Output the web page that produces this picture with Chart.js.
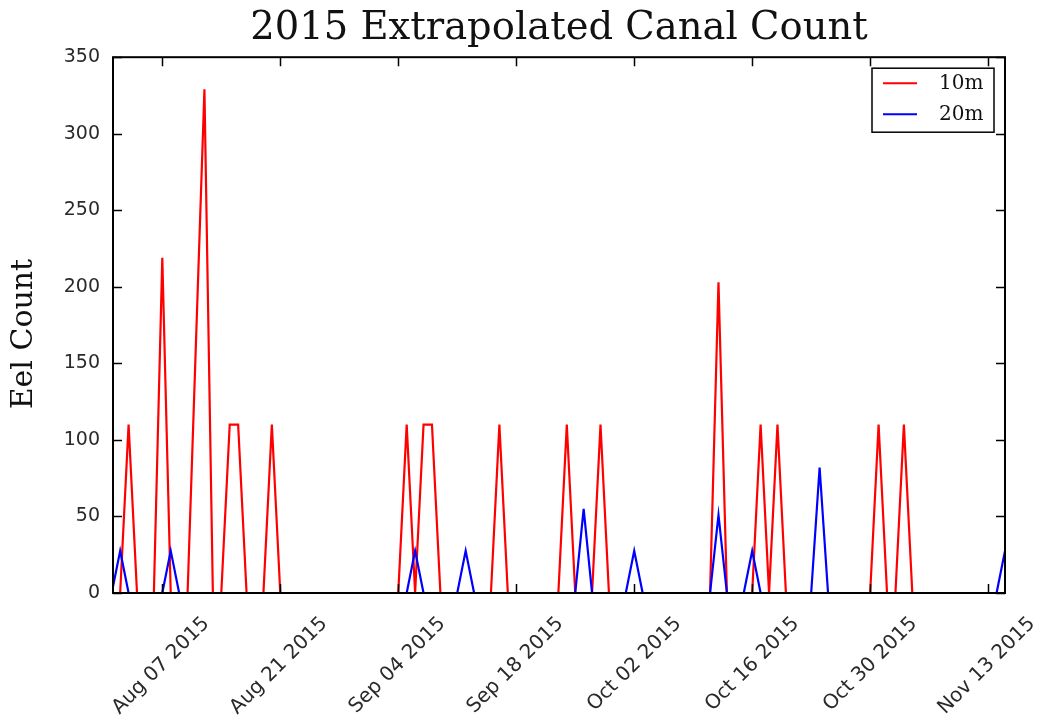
<!DOCTYPE html>
<html>
<head>
<meta charset="utf-8">
<script src="https://cdn.jsdelivr.net/npm/chart.js@4.4.1/dist/chart.umd.min.js"></script>
<style>
  html, body { margin: 0; padding: 0; background: #fff; }
  canvas { display: block; }
</style>
</head>
<body>
<canvas id="c" width="1040" height="717"></canvas>
<script>
// Day offsets counted from Aug 01 2015; each pair of arrays gives the line's vertices.
const redDays   = [0,1,2,3,5,6,7,9,11,12,13,14,15,16,18,19,20,34,35,36,37,38,39,45,46,47,53,54,55,57,58,59,71,72,73,76,77,78,79,80,90,91,92,93,94,95,106];
const redCounts = [0,0,110,0,0,219,0,0,329,0,0,110,110,0,0,110,0,0,110,0,110,110,0,0,110,0,0,110,0,0,110,0,0,203,0,0,110,0,110,0,0,110,0,0,110,0,0];

const blueDays   = [0,1,2,6,7,8,35,36,37,41,42,43,55,56,57,61,62,63,71,72,73,75,76,77,83,84,85,105,106];
const blueCounts = [0,27.5,0,0,27.5,0,0,27.5,0,0,27.5,0,0,55,0,0,27.5,0,0,51,0,0,27.5,0,0,82,0,0,27.5];

const tickDays   = [6, 20, 34, 48, 62, 76, 90, 104];
const tickLabels = ['Aug 07 2015', 'Aug 21 2015', 'Sep 04 2015', 'Sep 18 2015',
                    'Oct 02 2015', 'Oct 16 2015', 'Oct 30 2015', 'Nov 13 2015'];
const yTicks = [0, 50, 100, 150, 200, 250, 300, 350];

const seriesNames = ['10m', '20m'];
const seriesColors = ['#ff0000', '#0000ff'];
const yTitle = 'Eel Count';

const toPoints = (xs, ys) => xs.map((d, i) => ({ x: d, y: ys[i] }));

// Box frame, inward ticks on every side, the y-axis title and the boxed legend.
const framePlugin = {
  id: 'frame',
  afterDatasetsDraw(chart) {
    const { ctx, chartArea: a, scales: { x, y } } = chart;
    ctx.save();
    ctx.strokeStyle = '#000';
    ctx.lineWidth = 1.5;
    ctx.beginPath();
    tickDays.forEach(d => {
      const px = Math.round(x.getPixelForValue(d)) + 0.5;
      ctx.moveTo(px, a.top); ctx.lineTo(px, a.top + 9);
      ctx.moveTo(px, a.bottom); ctx.lineTo(px, a.bottom - 9);
    });
    yTicks.forEach(v => {
      const py = Math.round(y.getPixelForValue(v)) + 0.5;
      ctx.moveTo(a.left, py); ctx.lineTo(a.left + 9, py);
      ctx.moveTo(a.right, py); ctx.lineTo(a.right - 9, py);
    });
    ctx.stroke();
    ctx.lineWidth = 2;
    ctx.strokeRect(a.left, a.top, a.right - a.left, a.bottom - a.top);

    // y-axis title, set a little below the axis middle
    ctx.save();
    ctx.translate(24, (a.top + a.bottom) / 2 + 9);
    ctx.rotate(-Math.PI / 2);
    ctx.font = "30px 'DejaVu Serif'";
    ctx.fillStyle = '#111';
    ctx.textAlign = 'center';
    ctx.textBaseline = 'middle';
    ctx.fillText(yTitle, 0, 0);
    ctx.restore();

    // legend
    const bx = a.right - 133, by = a.top + 11, bw = 122, bh = 64;
    ctx.fillStyle = '#fff';
    ctx.fillRect(bx, by, bw, bh);
    ctx.lineWidth = 1.5;
    ctx.strokeStyle = '#000';
    ctx.strokeRect(bx, by, bw, bh);
    ctx.font = "20px 'DejaVu Serif'";
    ctx.textBaseline = 'middle';
    ctx.textAlign = 'left';
    chart.data.datasets.forEach((ds, i) => {
      const ry = by + 15 + i * 31;
      ctx.strokeStyle = ds.borderColor;
      ctx.lineWidth = 2;
      ctx.beginPath();
      ctx.moveTo(bx + 11, ry); ctx.lineTo(bx + 45, ry);
      ctx.stroke();
      ctx.fillStyle = '#111';
      ctx.fillText(ds.label, bx + 67, ry + 1);
    });
    ctx.restore();
  }
};

new Chart(document.getElementById('c'), {
  type: 'line',
  data: {
    datasets: [
      { label: seriesNames[0], data: toPoints(redDays, redCounts), borderColor: seriesColors[0],
        borderWidth: 2.2, pointRadius: 0, tension: 0, fill: false, order: 2 },
      { label: seriesNames[1], data: toPoints(blueDays, blueCounts), borderColor: seriesColors[1],
        borderWidth: 2.2, pointRadius: 0, tension: 0, fill: false, order: 1 }
    ]
  },
  options: {
    responsive: false,
    animation: false,
    events: [],
    layout: { padding: { right: 35 } },
    plugins: {
      legend: { display: false },
      tooltip: { enabled: false },
      title: {
        display: true,
        text: '2015 Extrapolated Canal Count',
        fullSize: false,
        color: '#111',
        font: { family: "'DejaVu Serif'", size: 38.5, weight: 'normal' },
        padding: { top: 6, bottom: 5 }
      }
    },
    scales: {
      x: {
        type: 'linear',
        min: 0.15,
        max: 106,
        grid: { display: false, drawTicks: false },
        border: { display: false },
        afterBuildTicks: s => { s.ticks = tickDays.map(v => ({ value: v })); },
        afterFit: s => { s.height = 124; },
        ticks: {
          autoSkip: false,
          minRotation: 45,
          maxRotation: 45,
          labelOffset: 44,
          padding: 19,
          color: '#2a2a2a',
          font: { family: "'DejaVu Sans'", size: 20 },
          callback: (v, i) => tickLabels[i]
        }
      },
      y: {
        min: 0,
        max: 350,
        grid: { display: false, drawTicks: false },
        border: { display: false },
        afterBuildTicks: s => { s.ticks = yTicks.map(v => ({ value: v })); },
        afterFit: s => { s.width = 113; },
        ticks: {
          padding: 13,
          color: '#2a2a2a',
          font: { family: "'DejaVu Sans'", size: 19 }
        }
      }
    }
  },
  plugins: [framePlugin]
});
</script>
</body>
</html>
